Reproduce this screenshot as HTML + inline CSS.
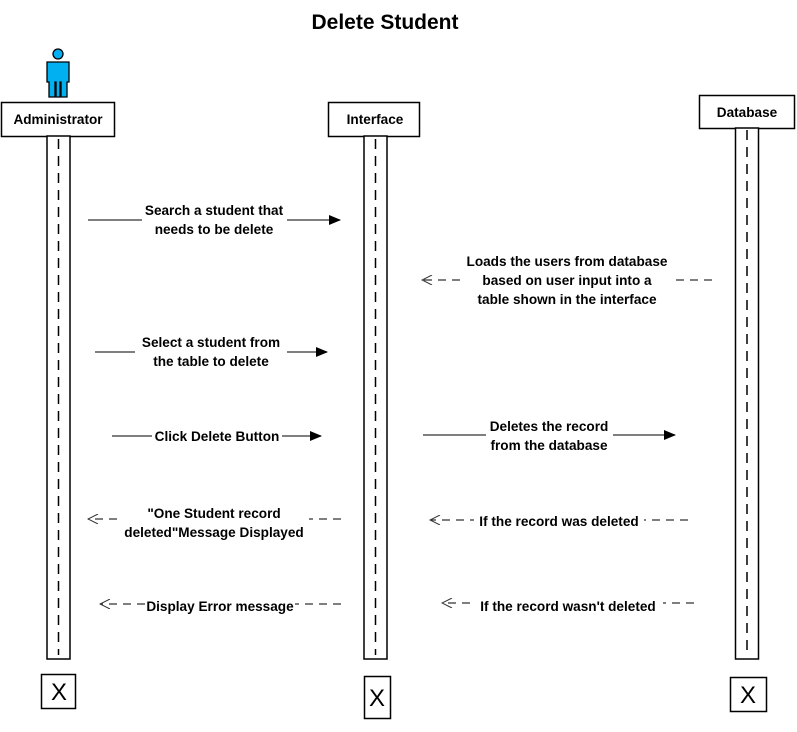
<!DOCTYPE html>
<html><head><meta charset="utf-8"><style>
body{margin:0;background:#fff;}
svg{display:block;}
text{font-family:"Liberation Sans",sans-serif;font-weight:bold;font-size:13.6px;fill:#000;}
</style></head><body>
<svg width="797" height="732" viewBox="0 0 797 732" xmlns="http://www.w3.org/2000/svg">
<defs>
<marker id="f" markerWidth="12" markerHeight="10" refX="11" refY="5" orient="auto" markerUnits="userSpaceOnUse"><path d="M0,0 L12,5 L0,10 z" fill="#000"/></marker>
<marker id="o" markerWidth="12" markerHeight="10" refX="11" refY="5" orient="auto" markerUnits="userSpaceOnUse"><path d="M1,0 L11,5 L1,10" fill="none" stroke="#333" stroke-width="1"/></marker>
</defs>
<text x="385" y="29" text-anchor="middle" style="font-size:21px">Delete Student</text>
<!-- actor -->
<g fill="#00b0f0" stroke="#000" stroke-width="1.3">
<circle cx="58" cy="54" r="5"/>
<path d="M47,62 h22 v20 h-2 v15 h-6 v-15 h-1 v15 h-4 v-15 h-1 v15 h-6 v-15 h-2 z"/>
</g>
<!-- boxes -->
<g fill="#fff" stroke="#000" stroke-width="1.5">
<rect x="1.5" y="102.5" width="113" height="34"/>
<rect x="328.5" y="102.5" width="91" height="34"/>
<rect x="699.5" y="95.5" width="95" height="33"/>
<rect x="47" y="136" width="23" height="523"/>
<rect x="364" y="136" width="23" height="523"/>
<rect x="735.5" y="128" width="23" height="531"/>
<rect x="41.5" y="674.5" width="34" height="34"/>
<rect x="364.5" y="676.5" width="26" height="42"/>
<rect x="730.5" y="677.5" width="36" height="34"/>
</g>
<g stroke="#000" stroke-width="1.5" stroke-dasharray="10,7">
<line x1="58.5" y1="139" x2="58.5" y2="655"/>
<line x1="375.5" y1="139" x2="375.5" y2="655"/>
<line x1="747" y1="130" x2="747" y2="655"/>
</g>
<text x="58" y="124" text-anchor="middle">Administrator</text>
<text x="375" y="124" text-anchor="middle">Interface</text>
<text x="747" y="117" text-anchor="middle">Database</text>
<text x="59" y="700" text-anchor="middle" style="font-weight:normal;font-size:24px">X</text>
<text x="377" y="706" text-anchor="middle" style="font-weight:normal;font-size:24px">X</text>
<text x="748" y="703" text-anchor="middle" style="font-weight:normal;font-size:24px">X</text>
<!-- solid arrows -->
<g stroke="#333" stroke-width="1.2" fill="none">
<line x1="88" y1="220" x2="340" y2="220" marker-end="url(#f)"/>
<line x1="95" y1="352" x2="327" y2="352" marker-end="url(#f)"/>
<line x1="112" y1="436" x2="321" y2="436" marker-end="url(#f)"/>
<line x1="423" y1="435" x2="675" y2="435" marker-end="url(#f)"/>
</g>
<g stroke="#333" stroke-width="1.2" fill="none" stroke-dasharray="8,6">
<line x1="712" y1="280" x2="422" y2="280" marker-end="url(#o)"/>
<line x1="341" y1="519" x2="88" y2="519" marker-end="url(#o)"/>
<line x1="688" y1="520" x2="430" y2="520" marker-end="url(#o)"/>
<line x1="341" y1="604" x2="100" y2="604" marker-end="url(#o)"/>
<line x1="694" y1="603" x2="442" y2="603" marker-end="url(#o)"/>
</g>
<!-- label backgrounds -->
<g fill="#fff">
<rect x="142" y="200" width="145" height="38"/>
<rect x="461" y="250" width="212" height="56"/>
<rect x="135" y="333" width="152" height="36"/>
<rect x="152" y="427" width="130" height="18"/>
<rect x="486" y="416" width="127" height="36"/>
<rect x="119" y="503" width="190" height="38"/>
<rect x="474" y="510" width="170" height="18"/>
<rect x="146" y="595" width="149" height="18"/>
<rect x="474" y="595" width="189" height="18"/>
</g>
<g text-anchor="middle">
<text x="214" y="215">Search a student that</text>
<text x="214" y="234">needs to be delete</text>
<text x="567" y="266">Loads the users  from database</text>
<text x="567" y="285">based on user input into a</text>
<text x="567" y="304">table shown in  the interface</text>
<text x="211" y="347">Select a  student from</text>
<text x="211" y="366">the table to delete</text>
<text x="217" y="441">Click Delete Button</text>
<text x="549" y="431">Deletes the record</text>
<text x="549" y="450">from the database</text>
<text x="214" y="518">"One Student record</text>
<text x="214" y="537">deleted"Message Displayed</text>
<text x="559" y="526">If the record was deleted</text>
<text x="220" y="611">Display Error message</text>
<text x="568" y="611">If the record wasn't deleted</text>
</g>
</svg>
</body></html>
